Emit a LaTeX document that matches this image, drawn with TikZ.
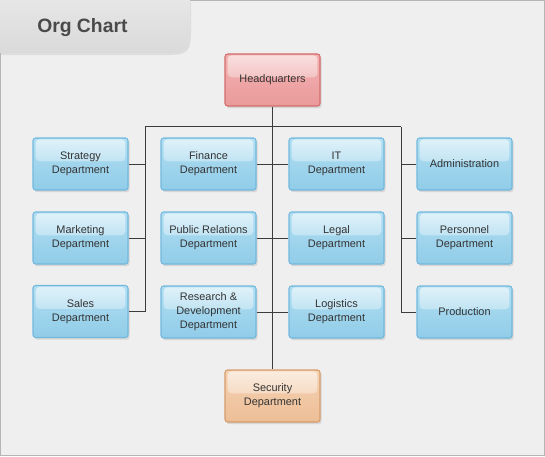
\documentclass[tikz,border=0pt]{standalone}
\usepackage{fontspec}
\setmainfont{Liberation Sans}
\usetikzlibrary{shadows,fadings}
\definecolor{paper}{HTML}{EFEFEF}
\definecolor{frame}{HTML}{B5B5B5}
\definecolor{tabT}{HTML}{E6E6E6}
\definecolor{tabB}{HTML}{DADADA}
\definecolor{ink}{HTML}{333333}
\definecolor{titleink}{HTML}{4A4A4A}
\definecolor{wire}{HTML}{3C3C3C}
\definecolor{blueT}{HTML}{B2DFF2}
\definecolor{blueB}{HTML}{90CCE8}
\definecolor{blueD}{HTML}{72B8DD}
\definecolor{redT}{HTML}{F3B2B2}
\definecolor{redB}{HTML}{EA9A9A}
\definecolor{redD}{HTML}{D46C6C}
\definecolor{orT}{HTML}{F5D3B4}
\definecolor{orB}{HTML}{EDBE96}
\definecolor{orD}{HTML}{D69C6A}
\tikzset{
  box/.style={rectangle, rounded corners=2pt, minimum width=71.25pt, minimum height=39pt,
    inner sep=1pt, align=center, text=ink, font=\fontsize{8.2}{10.5}\selectfont, line width=0.8pt,
    drop shadow={shadow xshift=1.2pt, shadow yshift=-1.6pt, opacity=0.22},
    path picture={\fill[white, opacity=0.6, path fading=south, rounded corners=3pt]
      ([xshift=2pt,yshift=-1pt]path picture bounding box.north west) rectangle
      ([xshift=-2pt,yshift=2pt]path picture bounding box.east);}},
  dept/.style={box, draw=blueD, top color=blueT, bottom color=blueB},
  head/.style={box, draw=redD, top color=redT, bottom color=redB},
  guard/.style={box, draw=orD, top color=orT, bottom color=orB},
  link/.style={draw=wire, line width=0.75pt},
  title/.style={text=titleink, font=\fontsize{14.5}{16}\selectfont\bfseries, inner sep=0pt, anchor=west}
}
\begin{document}
\begin{tikzpicture}[x=0.75pt, y=-0.75pt]
  \useasboundingbox (0,0) rectangle (545,456);
  \draw[frame, fill=paper, line width=0.75pt] (0.5,0.5) rectangle (544.5,455.5);
  \shade[top color=tabT, bottom color=tabB, drop shadow={shadow xshift=0.8pt, shadow yshift=-1.6pt, opacity=0.15}]
    (0,0) -- (190,0) -- (190,20) .. controls (190,53) .. (156,53) -- (0,53) -- cycle;
  \node[title] (ttl) at (37,27.5) {Org Chart};

  \node[head] (hq) at (272.5,80) {Headquarters};

  \node[dept] (str) at (80.5,164) {Strategy\\Department};
  \node[dept] (fin) at (208.5,164) {Finance\\Department};
  \node[dept] (it)  at (336.5,164) {IT\\Department};
  \node[dept] (adm) at (464.5,164) {Administration};

  \node[dept] (mkt) at (80.5,238) {Marketing\\Department};
  \node[dept] (pr)  at (208.5,238) {Public Relations\\Department};
  \node[dept] (leg) at (336.5,238) {Legal\\Department};
  \node[dept] (per) at (464.5,238) {Personnel\\Department};

  \node[dept] (sal) at (80.5,311.5) {Sales\\Department};
  \node[dept] (rd)  at (208.5,312) {Research \&\\Development\\Department};
  \node[dept] (log) at (336.5,312) {Logistics\\Department};
  \node[dept] (pro) at (464.5,312) {Production};

  \node[guard] (sec) at (272.5,396) {Security\\Department};

  \coordinate (jl) at (145,127);
  \coordinate (jr) at (401,127);

  \draw[link] (hq.south) -- (sec.north);
  \draw[link] (jl) -- (jr);
  \draw[link] (jl) |- (sal.east);
  \draw[link] (jr) |- (pro.west);
  \draw[link] (str.east) -- (str.east -| jl);
  \draw[link] (mkt.east) -- (mkt.east -| jl);
  \draw[link] (adm.west) -- (adm.west -| jr);
  \draw[link] (per.west) -- (per.west -| jr);
  \draw[link] (fin.east) -- (it.west);
  \draw[link] (pr.east) -- (leg.west);
  \draw[link] (rd.east) -- (log.west);
\end{tikzpicture}
\end{document}
